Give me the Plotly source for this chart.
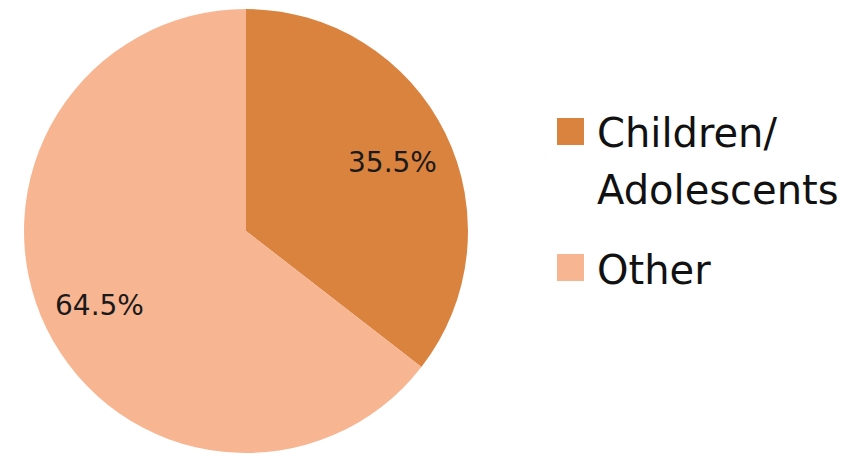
import math
import plotly.graph_objects as go

labels = ["Children/<br>Adolescents", "Other"]
legend_labels = [["Children/", "Adolescents"], ["Other"]]
values = [35.5, 64.5]
colors = ["#DA833F", "#F8B592"]

OFF = 8  # page body margin
W, H = 856 - OFF, 454 - OFF
# pie geometry (page pixels)
cx, cy, R = 246 - OFF, 231 - OFF, 222

fig = go.Figure()
fig.add_trace(go.Pie(
    labels=labels, values=values, sort=False, direction="clockwise", rotation=0,
    marker=dict(colors=colors, line=dict(width=0)),
    textinfo="none", hoverinfo="label+percent", showlegend=False,
    domain=dict(x=[(cx - R) / W, (cx + R) / W], y=[(H - cy - R) / H, (H - cy + R) / H]),
))

annotations = []
total = sum(values)
cum = 0.0
for v in values:
    mid = (cum + v / 2) / total * 2 * math.pi
    cum += v
    r = 0.735 * R
    px = cx + r * math.sin(mid)
    py = cy - r * math.cos(mid) + 3
    annotations.append(dict(
        x=px / W, y=1 - py / H, xref="paper", yref="paper", showarrow=False,
        text=f"{v / total * 100:.1f}%", font=dict(family="DejaVu Sans", size=28, color="#1a1a1a"),
        xanchor="center", yanchor="middle"))

shapes = []
# custom legend
sq = 27
lx, ly0 = 557 - OFF, 118 - OFF
line_gap = 56
row_y = ly0
for i, lab in enumerate(legend_labels):
    shapes.append(dict(type="rect", xref="paper", yref="paper",
                       x0=lx / W, x1=(lx + sq) / W, y0=1 - (row_y + sq) / H, y1=1 - row_y / H,
                       fillcolor=colors[i], line=dict(width=0)))
    for j, t in enumerate(lab):
        ty = row_y + sq / 2 + j * line_gap + 2
        annotations.append(dict(
            x=(lx + sq + 11) / W, y=1 - ty / H, xref="paper", yref="paper", showarrow=False,
            text=t, font=dict(family="DejaVu Sans", size=40, color="#111111"),
            xanchor="left", yanchor="middle"))
    row_y += len(lab) * line_gap + 24

fig.update_layout(
    width=W, height=H, margin=dict(l=0, r=0, t=0, b=0),
    paper_bgcolor="white", plot_bgcolor="white",
    annotations=annotations, shapes=shapes,
)
fig.write_html("out.html")
